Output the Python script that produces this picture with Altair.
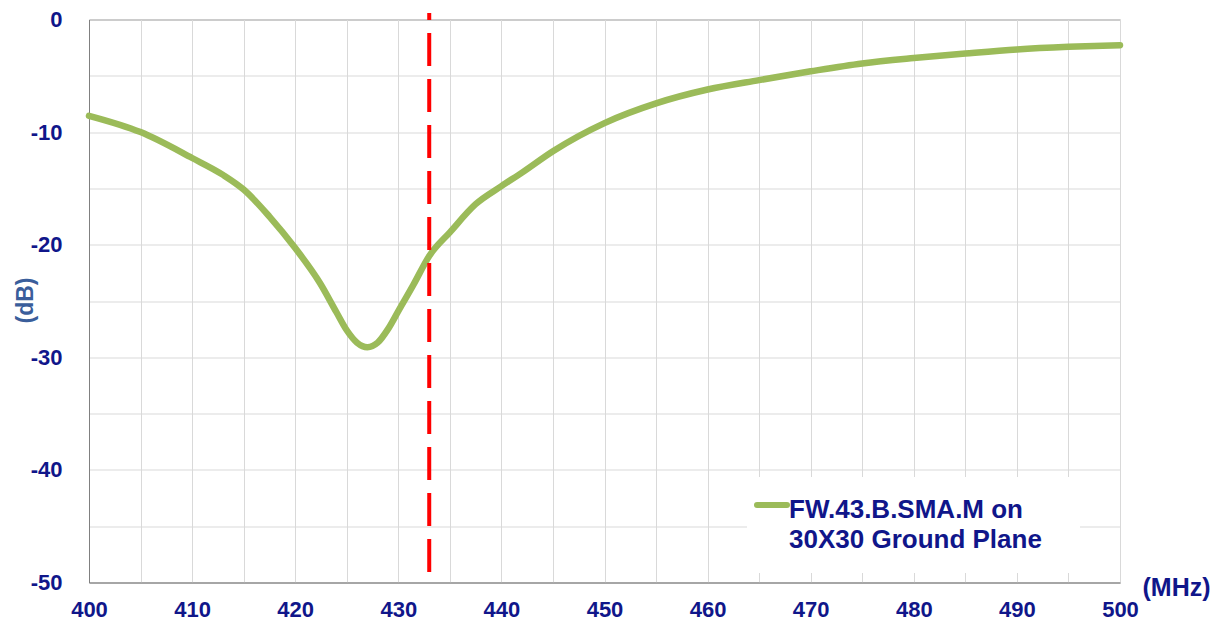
import altair as alt
import pandas as pd

# ---- data ----
freq_mhz = [400, 405, 410, 413, 415, 417.5, 420, 422.4, 424, 425, 426, 427,
            428, 429, 430, 431.5, 433, 435, 437.5, 440, 442, 445, 450, 455, 460, 465,
            470, 475, 480, 485, 490, 495, 500]
s11_db = [-8.55, -10.0, -12.3, -13.8, -15.1, -17.5, -20.3, -23.4, -26.0,
          -27.6, -28.7, -29.1, -28.7, -27.5, -25.9, -23.5, -21.0, -18.9, -16.4, -14.8,
          -13.6, -11.7, -9.2, -7.45, -6.22, -5.38, -4.6, -3.9, -3.42, -3.02, -2.66,
          -2.43, -2.28]
legend_lines = ["FW.43.B.SMA.M on", "30X30 Ground Plane"]
marker_mhz = [433]
x_ticks = list(range(400, 501, 5))
y_ticks = list(range(-50, 1, 5))

df = pd.DataFrame({"freq": freq_mhz, "s11": s11_db})
mk = pd.DataFrame({"freq": marker_mhz})
leg = pd.DataFrame({"label": ["\n".join(legend_lines)]})

NAVY = "#10168a"
GREEN = "#9bbb59"
FONT = "Liberation Sans"
W, H = 1031, 563

x_scale = alt.Scale(domain=[400, 500], nice=False, zero=False)
y_scale = alt.Scale(domain=[-50, 0], nice=False, zero=False)

x_axis = alt.Axis(
    values=x_ticks, labelExpr="datum.value % 10 == 0 ? '' + datum.value : ''",
    labelFont=FONT, labelFontSize=22, labelFontWeight="bold", labelColor=NAVY,
    labelPadding=17, labelFlush=False, labelOverlap=False, ticks=False,
    domainColor="#808080", gridColor="#d9d9d9", gridWidth=1,
    title="(MHz)", titleFont=FONT, titleFontSize=25, titleFontWeight="bold",
    titleColor=NAVY, titleX=1087, titleY=5, titleAlign="center", titleBaseline="middle",
)
y_axis = alt.Axis(
    values=y_ticks, labelExpr="datum.value % 10 == 0 ? '' + datum.value : ''",
    labelFont=FONT, labelFontSize=22, labelFontWeight="bold", labelColor=NAVY,
    labelPadding=27, labelFlush=False, labelOverlap=False, ticks=False,
    domainColor="#808080", gridColor="#d9d9d9", gridWidth=1,
    title="(dB)", titleFont=FONT, titleFontSize=23, titleFontWeight="bold",
    titleColor="#3a5e9b", titleX=-64, titleY=280.5, titleAngle=-90,
    titleAlign="center", titleBaseline="middle",
)

line = alt.Chart(df).mark_line(strokeWidth=6.5, interpolate="monotone", strokeCap="round",
                               color=GREEN).encode(
    x=alt.X("freq:Q", scale=x_scale, axis=x_axis),
    y=alt.Y("s11:Q", scale=y_scale, axis=y_axis),
)

marker = alt.Chart(mk).mark_rule(color="#ff0000", strokeWidth=4, strokeDash=[33, 13],
                                 strokeDashOffset=26, clip=False).encode(
    x=alt.X("freq:Q", scale=x_scale, axis=x_axis),
    y=alt.value(-6.5),
    y2=alt.value(H),
)

# legend (white box, green swatch, two-line label)
leg_box = alt.Chart(leg).mark_rect(fill="white").encode(
    x=alt.value(658), x2=alt.value(991), y=alt.value(457.5), y2=alt.value(553.5))
leg_swatch = alt.Chart(leg).mark_rule(color=GREEN, strokeWidth=6, strokeCap="round").encode(
    x=alt.value(668), x2=alt.value(698), y=alt.value(485.5))
leg_text = alt.Chart(leg).mark_text(
    align="left", baseline="alphabetic", lineBreak="\n", lineHeight=30,
    font=FONT, fontSize=26, fontWeight="bold", color=NAVY,
).encode(x=alt.value(700), y=alt.value(498.5), text="label:N")

chart = alt.layer(line, marker, leg_box, leg_swatch, leg_text).properties(
    width=W, height=H,
    autosize=alt.AutoSizeParams(type="none"),
    padding={"left": 81, "top": 11.5, "right": 94, "bottom": 42},
).configure_view(stroke="#808080", strokeWidth=1)

chart.save("out.html", embed_options={"renderer": "svg", "actions": False})
